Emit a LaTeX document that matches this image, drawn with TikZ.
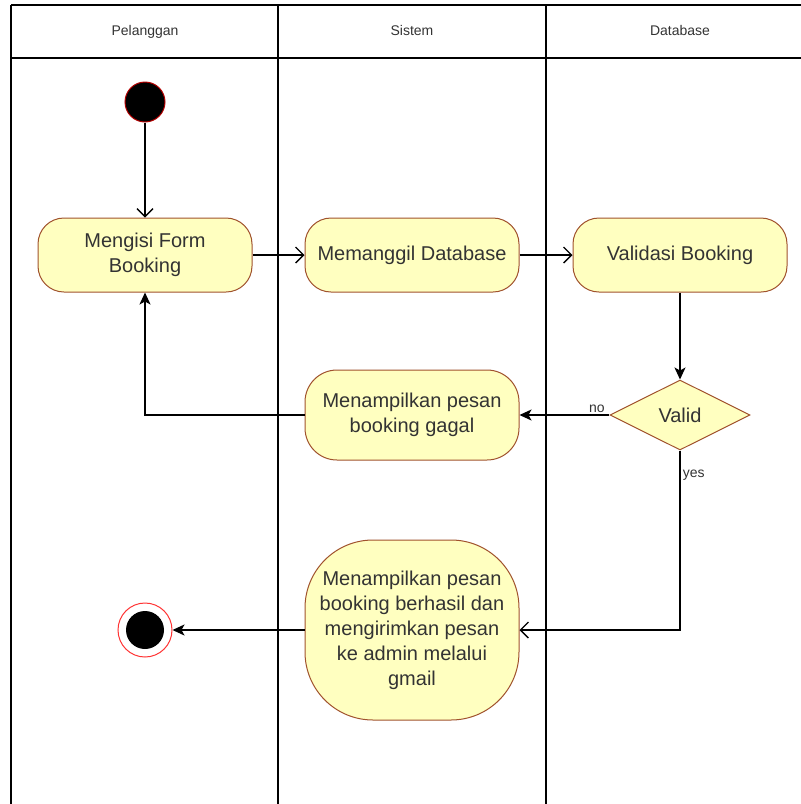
\documentclass[tikz,border=0pt]{standalone}
\usepackage{fontspec}
\setmainfont{Liberation Sans}
\usetikzlibrary{shapes.geometric,arrows.meta}

\definecolor{actfill}{HTML}{FFFFC0}
\definecolor{actline}{HTML}{A0522D}

\begin{document}
\begin{tikzpicture}[x=1pt, y=-1pt, line width=1.5pt,
        main/.style = {draw=actline, fill=actfill, rectangle, rounded corners=26pt, line width=1pt, minimum width=214pt, minimum height=74pt, inner sep=2pt, align=center, text=black!80, font=\fontsize{20}{25}\selectfont},
        decision/.style = {draw=actline, fill=actfill, diamond, line width=1pt, minimum width=140pt, minimum height=70pt, inner sep=0pt, text=black!80, font=\fontsize{20}{25}\selectfont},
        start/.style = {circle, fill=black, draw=red!70!black, line width=1pt, minimum size=40pt, inner sep=0pt},
        finish/.style = {circle, fill=white, draw=red!80, line width=1pt, minimum size=54pt, inner sep=0pt, path picture={\fill[black] (path picture bounding box.center) circle (19pt);}},
        lane/.style = {text=black!80, font=\fontsize{14}{17}\selectfont, text height=10pt, text depth=3pt},
        lbl/.style = {text=black!80, font=\fontsize{14}{17}\selectfont, inner sep=2pt},
        openarr/.style = {-{Straight Barb[length=8pt, width=16pt, line width=1.3pt]}},
        arr/.style = {-{Stealth[length=12pt, width=11pt, inset=3pt]}}]
    \useasboundingbox (0,0) rectangle (801,804);
    % swimlanes
    \draw (11,5) -- (801,5);
    \draw (11,58) -- (801,58);
    \foreach \x in {11,278,546}
        \draw (\x,5) -- (\x,804);
    \node[lane] (h1) at (145,32) {Pelanggan};
    \node[lane] (h2) at (412,32) {Sistem};
    \node[lane] (h3) at (680,32) {Database};
    % activities
    \node[start] (1) at (145,102) {};
    \node[main] (2) at (145,255) {Mengisi Form\\Booking};
    \node[main] (3) at (412,255) {Memanggil Database};
    \node[main] (4) at (680,255) {Validasi Booking};
    \node[decision] (5) at (680,415) {Valid};
    \node[main, minimum height=90pt, rounded corners=32pt] (6) at (412,415) {Menampilkan pesan\\booking gagal};
    \node[main, minimum height=180pt, rounded corners=68pt] (7) at (412,630) {Menampilkan pesan\\booking berhasil dan\\mengirimkan pesan\\ke admin melalui\\gmail};
    \node[finish] (8) at (145,630) {};
    % flow
    \draw[openarr] (1) -- (2);
    \draw[openarr] (2) -- (3);
    \draw[openarr] (3) -- (4);
    \draw[arr] (4) -- (5);
    \draw[arr] (5) -- node[lbl, pos=0.14, above] {no} (6);
    \draw[arr] (6) -| (2);
    \draw[openarr] (5) |- node[lbl, pos=0.07, right] {yes} (7);
    \draw[arr] (7) -- (8);
\end{tikzpicture}
\end{document}
